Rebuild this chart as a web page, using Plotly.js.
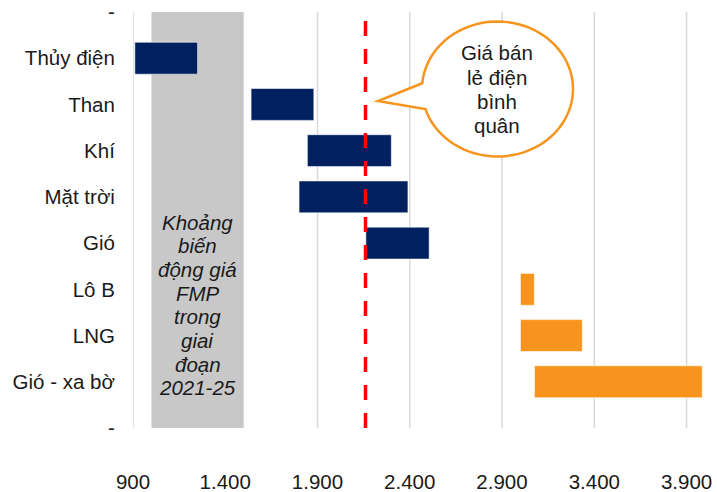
<!DOCTYPE html>
<html>
<head>
<meta charset="utf-8">
<script src="https://cdn.plot.ly/plotly-3.0.1.min.js"></script>
<style>html,body{margin:0;padding:0;background:#fff;}#chart{width:717px;height:492px;}</style>
</head>
<body>
<div id="chart"></div>
<script>
// ---- data ----
const categories = ["-", "Thủy điện", "Than", "Khí", "Mặt trời", "Gió", "Lô B", "LNG", "Gió - xa bờ", "-"];
const domesticNames = ["Thủy điện", "Than", "Khí", "Mặt trời", "Gió"];
const domesticLow  = [910, 1540, 1845, 1800, 2162];
const domesticHigh = [1250, 1880, 2300, 2390, 2505];
const importNames = ["Lô B", "LNG", "Gió - xa bờ"];
const importLow  = [3000, 3000, 3076];
const importHigh = [3075, 3335, 3985];
const fmpRange = [1000, 1500];
const avgRetailPrice = 2160;
const xTickVals = [900, 1400, 1900, 2400, 2900, 3400, 3900];
const fmpLabelLines = ["Khoảng", "biến", "động giá", "FMP", "trong", "giai", "đoạn", "2021-25"];
const bubbleLines = ["Giá bán", "lẻ điện", "bình", "quân"];

// ---- layout geometry ----
const W = 717, H = 492;
const M = {l: 133, r: 12, t: 12, b: 64};
const PW = W - M.l - M.r, PH = H - M.t - M.b;
const px2paperX = px => (px - M.l) / PW;
const px2paperY = py => 1 - (py - M.t) / PH;

const FONT = "Liberation Sans, Arial, sans-serif";
const FS = 20.5;
const TXT = "#1a1a1a";
const NAVY = "#002060";
const ORANGE = "#F7941D";

function barTrace(names, lo, hi, color) {
  return {
    type: "bar",
    orientation: "h",
    y: names.map(n => categories.indexOf(n)),
    base: lo,
    x: hi.map((h, i) => h - lo[i]),
    width: 0.69,
    marker: {color: color, line: {color: "rgba(255,255,255,0.55)", width: 1}},
    hoverinfo: "skip",
    showlegend: false
  };
}

// speech bubble path (pixel geometry -> paper)
const cx = 497.5, cy = 89, rx = 75.5, ry = 67.5;
const tip = [378, 101];
const a0 = 162.7 * Math.PI / 180, a1 = -175.1 * Math.PI / 180;
let pts = [tip];
const N = 80;
for (let i = 0; i <= N; i++) {
  const a = a0 + (a1 - a0) * i / N;
  pts.push([cx + rx * Math.cos(a), cy + ry * Math.sin(a)]);
}
const bubblePath = pts.map((p, i) => (i === 0 ? "M" : "L") + px2paperX(p[0]).toFixed(5) + "," + px2paperY(p[1]).toFixed(5)).join(" ") + " Z";

const annotations = [];
fmpLabelLines.forEach((t, i) => {
  annotations.push({
    xref: "x", yref: "paper", x: (fmpRange[0] + fmpRange[1]) / 2, y: px2paperY(222 + 23.7 * i),
    text: t, showarrow: false, xanchor: "center", yanchor: "middle",
    font: {family: FONT, size: FS, color: TXT, style: "italic"}
  });
});
bubbleLines.forEach((t, i) => {
  annotations.push({
    xref: "paper", yref: "paper", x: px2paperX(cx), y: px2paperY(53 + 24 * i),
    text: t, showarrow: false, xanchor: "center", yanchor: "middle",
    font: {family: FONT, size: FS, color: TXT}
  });
});

// gridlines drawn as shapes so the FMP band can cover them
const shapes = xTickVals.map(v => ({
  type: "line", xref: "x", yref: "paper", x0: v, x1: v, y0: 0, y1: 1,
  line: {color: "#d9d9d9", width: 1.5}, layer: "below"
}));
shapes.push(
  {type: "rect", xref: "x", yref: "paper", x0: fmpRange[0], x1: fmpRange[1], y0: 0, y1: 1,
   fillcolor: "#c8c8c8", line: {width: 0}, layer: "below"},
  {type: "line", xref: "x", yref: "paper", x0: avgRetailPrice, x1: avgRetailPrice, y0: 0, y1: 0.985,
   line: {color: "#ff0000", width: 3.5, dash: "15px,13px"}, layer: "above"},
  {type: "path", xref: "paper", yref: "paper", path: bubblePath,
   fillcolor: "#ffffff", line: {color: ORANGE, width: 2.5}, layer: "above"}
);

const layout = {
  width: W, height: H,
  margin: M,
  paper_bgcolor: "#fff", plot_bgcolor: "#fff",
  separators: ",.",
  barmode: "overlay",
  font: {family: FONT, size: FS, color: TXT},
  xaxis: {
    range: [900, 4000],
    tickvals: xTickVals,
    tickformat: ",d",
    showgrid: false,
    zeroline: false, showline: false,
    ticks: "outside", ticklen: 35, tickcolor: "rgba(0,0,0,0)",
    tickfont: {family: FONT, size: FS, color: TXT},
    fixedrange: true
  },
  yaxis: {
    range: [9, 0],
    tickvals: categories.map((c, i) => i),
    ticktext: categories,
    showgrid: false, zeroline: false, showline: false,
    ticks: "outside", ticklen: 13, tickcolor: "rgba(0,0,0,0)",
    tickfont: {family: FONT, size: FS, color: TXT},
    fixedrange: true
  },
  shapes: shapes,
  annotations: annotations
};

Plotly.newPlot("chart", [
  barTrace(domesticNames, domesticLow, domesticHigh, NAVY),
  barTrace(importNames, importLow, importHigh, ORANGE)
], layout, {staticPlot: true, displayModeBar: false});
</script>
</body>
</html>
